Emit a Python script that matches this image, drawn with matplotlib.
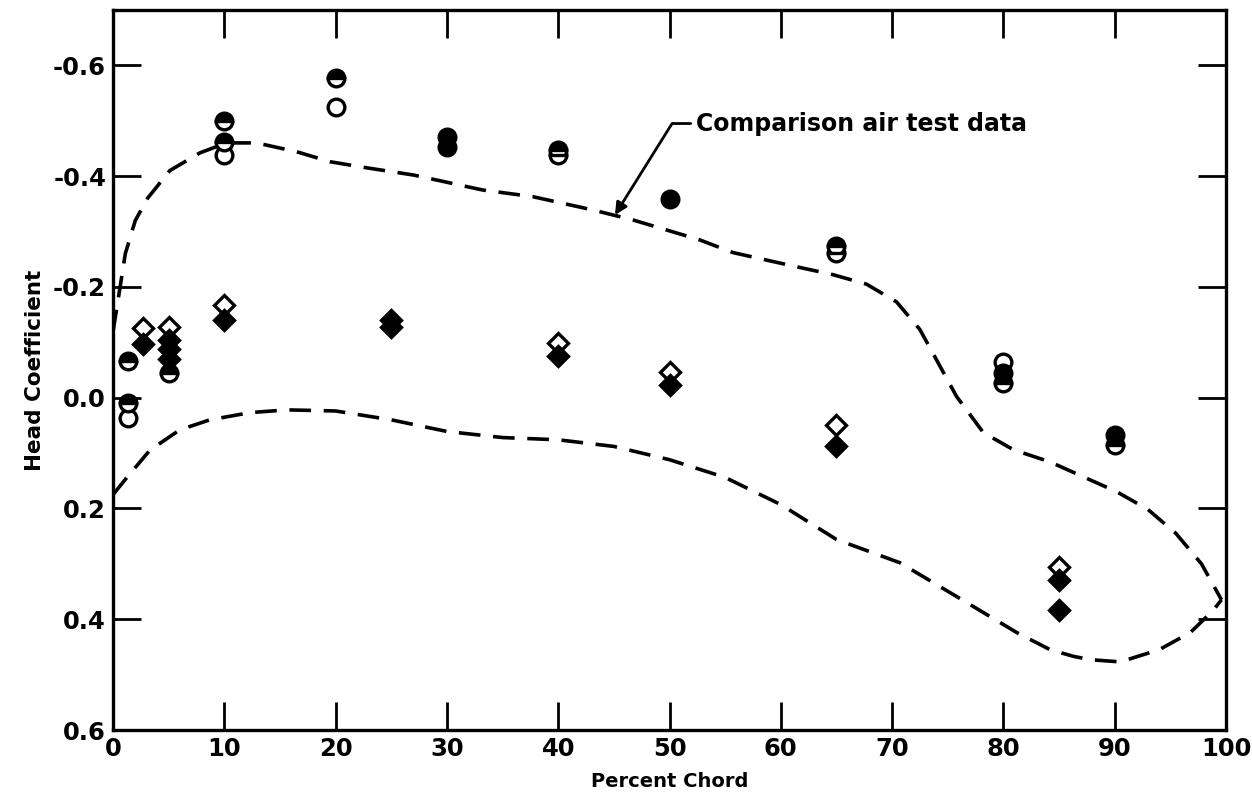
import matplotlib.pyplot as plt
import numpy as np

plt.rcParams['font.family'] = 'DejaVu Sans'
plt.rcParams['font.weight'] = 'bold'

# comparison air test data envelope (dashed), upper and lower branches
upper_x = [0.0, 0.4, 1.1, 2.0, 3.1, 5.1, 7.8, 10.2, 12.9, 16.5, 19.5, 22.8, 27.0,
           33.2, 37.7, 43.1, 46.7, 52.7, 55.7, 60.6, 64.7, 67.7, 70.4, 72.5, 75.8,
           78.2, 80.9, 84.2, 87.2, 90.2, 93.0, 95.5, 97.8, 99.6]
upper_y = [-0.12, -0.17, -0.26, -0.32, -0.36, -0.41, -0.442, -0.46, -0.46, -0.444,
           -0.426, -0.415, -0.402, -0.375, -0.363, -0.339, -0.321, -0.285, -0.262,
           -0.24, -0.222, -0.205, -0.173, -0.123, -0.002, 0.063, 0.094, 0.116,
           0.143, 0.170, 0.202, 0.245, 0.30, 0.365]
lower_x = [0.0, 1.0, 3.3, 6.0, 8.7, 12.3, 15.6, 20.0, 25.0, 30.0, 35.0, 40.0, 45.0,
           50.0, 55.0, 60.0, 65.0, 70.7, 75.8, 81.2, 84.2, 86.3, 87.8, 90.5, 94.0,
           96.8, 98.8, 99.6]
lower_y = [0.175, 0.15, 0.095, 0.058, 0.040, 0.027, 0.022, 0.024, 0.040, 0.061,
           0.072, 0.076, 0.088, 0.112, 0.144, 0.193, 0.256, 0.298, 0.359, 0.424,
           0.455, 0.467, 0.473, 0.477, 0.455, 0.424, 0.385, 0.365]

# circles
open_circ_x = [1.3, 10, 20, 80]
open_circ_y = [0.036, -0.439, -0.525, -0.065]
full_circ_x = [30, 30, 50, 80, 90]
full_circ_y = [-0.471, -0.453, -0.359, -0.045, 0.067]
half_circ_x = [1.3, 1.3, 5, 10, 10, 20, 40, 40, 65, 65, 80, 90]
half_circ_y = [-0.067, 0.01, -0.045, -0.50, -0.462, -0.578, -0.448, -0.439,
               -0.273, -0.262, -0.027, 0.085]

# diamonds
open_diam_x = [2.7, 5, 10, 40, 50, 65, 85]
open_diam_y = [-0.126, -0.128, -0.168, -0.099, -0.047, 0.049, 0.305]
full_diam_x = [2.7, 5, 5, 5, 10, 25, 25, 40, 50, 65, 85, 85]
full_diam_y = [-0.097, -0.105, -0.087, -0.069, -0.141, -0.14, -0.128, -0.076,
               -0.023, 0.088, 0.329, 0.383]

xticks = np.arange(0, 101, 10)
yticks = [-0.6, -0.4, -0.2, 0.0, 0.2, 0.4, 0.6]
ytick_labels = ['-0.6', '-0.4', '-0.2', '0.0', '0.2', '0.4', '0.6']

fig = plt.figure(figsize=(12.52, 7.98), dpi=100)
ax = fig.add_axes([0.0903, 0.0852, 0.8889, 0.9023])

dash = dict(color='black', lw=2.6, dashes=(6, 3.5))
ax.plot(upper_x, upper_y, **dash)
ax.plot(lower_x, lower_y, **dash)

mk = dict(linestyle='none', color='black', markeredgecolor='black', mew=2.4,
          clip_on=False, zorder=3)
ax.plot(open_circ_x, open_circ_y, marker='o', ms=12, mfc='white', **mk)
ax.plot(full_circ_x, full_circ_y, marker='o', ms=12, mfc='black', **mk)
ax.plot(half_circ_x, half_circ_y, marker='o', ms=12, fillstyle='top',
        mfc='black', mfcalt='white', **mk)
ax.plot(open_diam_x, open_diam_y, marker='D', ms=10, mfc='white', **mk)
ax.plot(full_diam_x, full_diam_y, marker='D', ms=10, mfc='black', **mk)

ax.annotate('Comparison air test data', xy=(45.1, -0.33), xytext=(52.4, -0.495),
            fontsize=17, fontweight='bold', ha='left', va='center',
            arrowprops=dict(arrowstyle='-|>', color='black', lw=2,
                            mutation_scale=18, relpos=(0, 0.5),
                            connectionstyle='angle,angleA=0,angleB=58,rad=0',
                            shrinkA=2, shrinkB=0))

ax.set_xlim(0, 100)
ax.set_ylim(0.6, -0.7)
ax.set_xticks(xticks)
ax.set_yticks(yticks)
ax.set_yticklabels(ytick_labels)
ax.tick_params(direction='in', length=20, width=2, top=True, right=True,
               labelsize=17.5, pad=5)
for lab in ax.get_xticklabels() + ax.get_yticklabels():
    lab.set_fontweight('bold')
for sp in ax.spines.values():
    sp.set_linewidth(2.4)

ax.set_xlabel('Percent Chord', fontsize=14, fontweight='bold', labelpad=8)
ax.set_ylabel('Head Coefficient', fontsize=15.5, fontweight='bold', labelpad=6)

fig.savefig('out.png', dpi=100)
